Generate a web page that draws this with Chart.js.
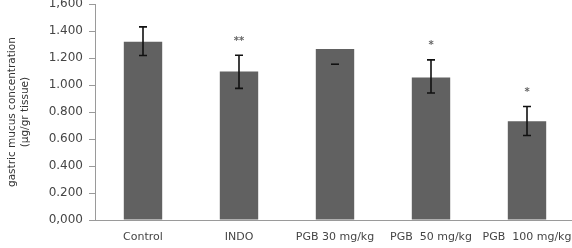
<!DOCTYPE html>
<html>
<head>
<meta charset="utf-8">
<script src="https://cdn.jsdelivr.net/npm/chart.js@4/dist/chart.umd.min.js"></script>
<style>
  html, body { margin:0; padding:0; background:#fff; width:572px; height:248px; overflow:hidden; }
  #wrap { position:absolute; left:0; top:-9px; width:580px; height:257px; }
</style>
</head>
<body>
<div id="wrap"><canvas id="c" width="580" height="257"></canvas></div>
<script>
const categories = ["Control", "INDO", "PGB 30 mg/kg", "PGB  50 mg/kg", "PGB  100 mg/kg"];
const means      = [1.322, 1.101, 1.268, 1.057, 0.732];
const errUp      = [0.110, 0.121, null, 0.130, 0.109];
const errDown    = [0.102, 0.125, 0.113, 0.115, 0.105];
const sigMarks   = ["", "**", "", "*", "*"];
const yTickLabels = ["0,000", "0.200", "0.400", "0.600", "0.800", "1.000", "1.200", "1.400", "1,600"];
const yTitle = ["gastric mucus concentration", "(\u00b5g/gr tissue)"];

const textColor = "#454545";
const fontFam = "'DejaVu Sans', sans-serif";

const errorBars = {
  id: "errorBars",
  afterDatasetsDraw(chart) {
    const ctx = chart.ctx;
    const y = chart.scales.y;
    const meta = chart.getDatasetMeta(0);
    ctx.save();
    ctx.strokeStyle = "#111";
    ctx.lineWidth = 1.6;
    meta.data.forEach((bar, i) => {
      const x = bar.x;
      const v = means[i];
      const yLow = y.getPixelForValue(v - errDown[i]);
      const cap = 4;
      ctx.beginPath();
      ctx.moveTo(x - cap, yLow); ctx.lineTo(x + cap, yLow);
      if (errUp[i] !== null) {
        const yHigh = y.getPixelForValue(v + errUp[i]);
        ctx.moveTo(x - cap, yHigh); ctx.lineTo(x + cap, yHigh);
        ctx.moveTo(x, yHigh); ctx.lineTo(x, yLow);
      }
      ctx.stroke();
      if (sigMarks[i]) {
        const top = errUp[i] !== null ? v + errUp[i] : v;
        const yt = y.getPixelForValue(top) - 16;
        ctx.fillStyle = "#666";
        ctx.font = "bold 10px " + fontFam;
        ctx.textAlign = "center";
        ctx.textBaseline = "middle";
        ctx.fillText(sigMarks[i], x, yt + 2);
      }
    });
    ctx.restore();
  }
};

new Chart(document.getElementById("c"), {
  type: "bar",
  data: {
    labels: categories,
    datasets: [{
      data: means,
      backgroundColor: "#616161",
      borderWidth: 0,
      categoryPercentage: 1.0,
      barPercentage: 0.4
    }]
  },
  options: {
    responsive: false,
    animation: false,
    events: [],
    layout: { padding: { left: 0, right: 5, top: 6, bottom: 0 } },
    plugins: { legend: { display: false }, tooltip: { enabled: false } },
    scales: {
      x: {
        grid: { display: false },
        border: { display: true, color: "#9a9a9a", width: 1 },
        ticks: { color: textColor, font: { family: fontFam, size: 11 }, padding: 3, maxRotation: 0, autoSkip: false },
        afterFit(scale) { scale.height = 28; }
      },
      y: {
        min: 0, max: 1.6,
        grid: { drawOnChartArea: false, tickLength: 6, color: "#9a9a9a" },
        border: { display: true, color: "#9a9a9a", width: 1 },
        ticks: {
          stepSize: 0.2,
          padding: 6,
          color: textColor,
          font: { family: fontFam, size: 12 },
          callback: (val, idx) => yTickLabels[idx]
        },
        title: {
          display: true,
          text: yTitle,
          color: "#333",
          font: { family: fontFam, size: 10.5 },
          padding: { top: 6, bottom: 0 }
        },
        afterFit(scale) { scale.width = 95; }
      }
    }
  },
  plugins: [errorBars]
});
</script>
</body>
</html>
